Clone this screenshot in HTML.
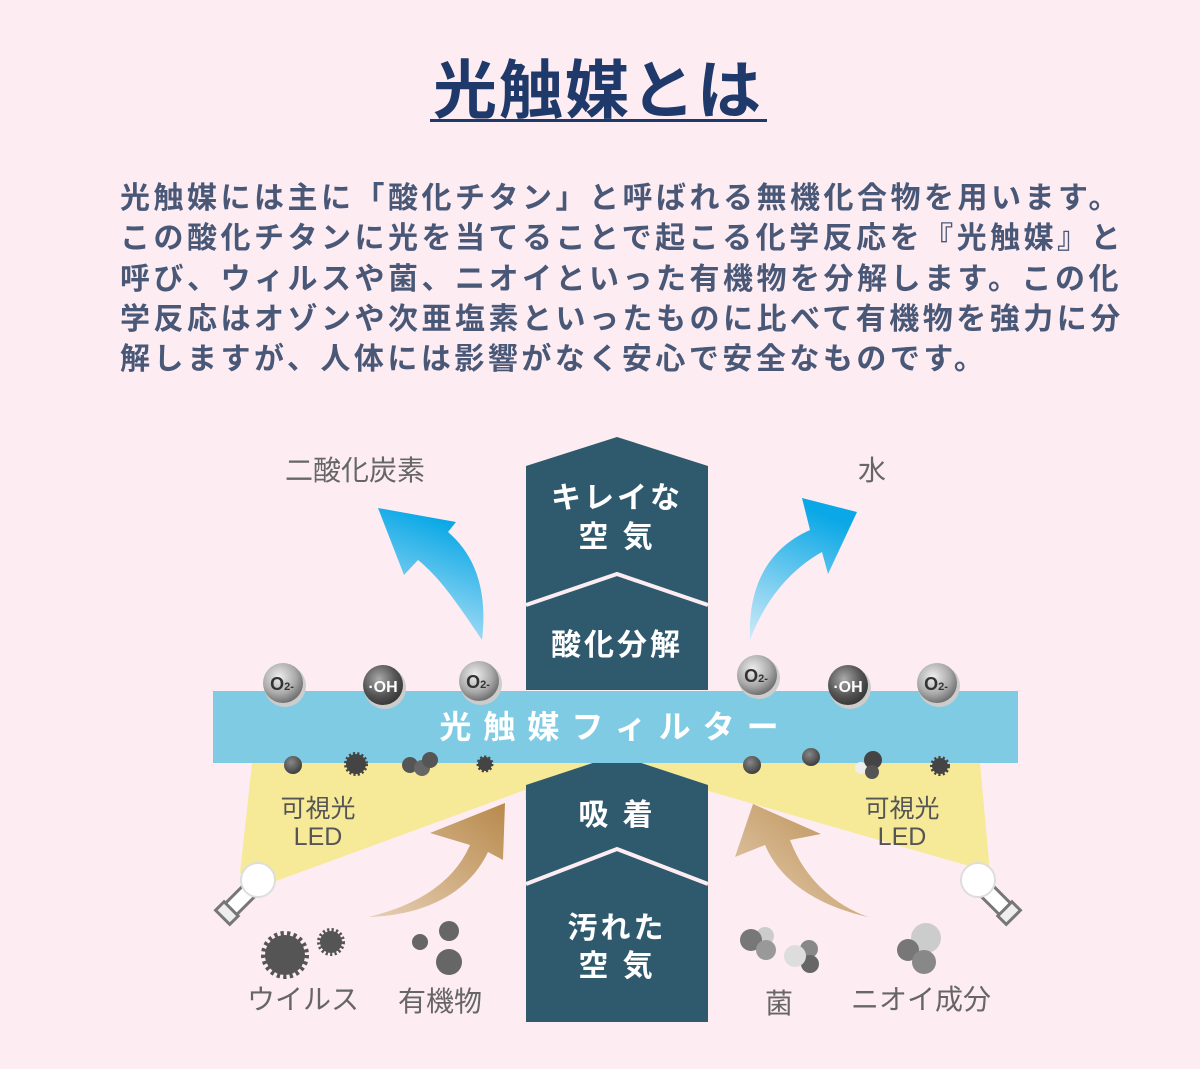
<!DOCTYPE html>
<html><head><meta charset="utf-8"><style>
body{margin:0;background:#fdedf3;}
svg{display:block;font-family:"Liberation Sans","Noto Sans CJK JP",sans-serif;}
</style></head><body>
<svg width="1200" height="1069" viewBox="0 0 1200 1069" xmlns="http://www.w3.org/2000/svg">
<defs>
<linearGradient id="bl" x1="0" y1="1" x2="0.3" y2="0"><stop offset="0" stop-color="#cfeaf8"/><stop offset="1" stop-color="#0aa8e6"/></linearGradient>
<linearGradient id="br" x1="0" y1="1" x2="1" y2="0"><stop offset="0" stop-color="#e6cfb4"/><stop offset="1" stop-color="#b88a4c"/></linearGradient>
<radialGradient id="g1" cx="0.4" cy="0.35" r="0.7"><stop offset="0" stop-color="#eee"/><stop offset="0.6" stop-color="#aaa"/><stop offset="1" stop-color="#666"/></radialGradient>
<radialGradient id="g2" cx="0.4" cy="0.35" r="0.7"><stop offset="0" stop-color="#aaa"/><stop offset="0.6" stop-color="#555"/><stop offset="1" stop-color="#333"/></radialGradient>
<radialGradient id="g3" cx="0.4" cy="0.35" r="0.7"><stop offset="0" stop-color="#888"/><stop offset="1" stop-color="#3a3a3a"/></radialGradient>
</defs>
<rect width="1200" height="1069" fill="#fdedf3"/>
<text x="598" y="113" text-anchor="middle" font-size="64" font-weight="bold" fill="#1f3a6a" letter-spacing="2">光触媒とは</text>
<rect x="430" y="119" width="337" height="3" fill="#1f3a6a"/>
<g font-size="30" font-weight="bold" fill="#4a5878" letter-spacing="3.5">
<text x="120" y="208">光触媒には主に「酸化チタン」と呼ばれる無機化合物を用います。</text>
<text x="120" y="248">この酸化チタンに光を当てることで起こる化学反応を『光触媒』と</text>
<text x="120" y="289">呼び、ウィルスや菌、ニオイといった有機物を分解します。この化</text>
<text x="120" y="329">学反応はオゾンや次亜塩素といったものに比べて有機物を強力に分</text>
<text x="120" y="369">解しますが、人体には影響がなく安心で安全なものです。</text>
</g>
<polygon points="252,763 980,763 990,872 705,790 525,790 268,884 240,873" fill="#f6ea98"/>
<polygon points="525,790 705,790 705,800 525,800" fill="#f6ea98"/>
<polygon points="526,466 617,437 708,466 708,690 526,690" fill="#2f5a6e"/>
<polyline points="526,605 617,574 708,605" fill="none" stroke="#fdedf3" stroke-width="4"/>
<polygon points="526,785 617,755 708,785 708,1022 526,1022" fill="#2f5a6e"/>
<polyline points="526,884 617,849 708,884" fill="none" stroke="#fdedf3" stroke-width="4"/>
<g font-size="30" font-weight="bold" fill="#fff" text-anchor="middle" letter-spacing="3">
<text x="617" y="508">キレイな</text><text x="617" y="547">空 気</text>
<text x="617" y="655">酸化分解</text>
<text x="617" y="825">吸 着</text>
<text x="617" y="938">汚れた</text><text x="617" y="976">空 気</text>
</g>
<rect x="213" y="691" width="805" height="72" fill="#7ecbe3"/>
<text x="615" y="738" text-anchor="middle" font-size="32" font-weight="bold" fill="#fff" letter-spacing="12">光触媒フィルター</text>
<path d="M482,640 C488,590 475,555 448,532 L456,522 L378,508 L404,575 L418,560 C440,578 455,600 482,640 Z" fill="url(#bl)"/>
<path d="M750,640 C748,590 765,550 810,530 L802,498 L857,512 L828,574 L822,552 C790,570 765,600 750,640 Z" fill="url(#bl)"/>
<path d="M368,917 C420,905 455,880 470,845 L430,833 L505,803 L503,860 L488,852 C470,890 430,915 368,917 Z" fill="url(#br)"/>
<path d="M868,917 C815,905 780,880 765,845 L735,857 L753,804 L821,834 L790,840 C805,880 835,905 868,917 Z" fill="url(#br)"/>
<g font-weight="bold" text-anchor="middle">
<circle cx="285" cy="686" r="21" fill="#ccc"/><circle cx="283" cy="683" r="20" fill="url(#g1)"/><text x="282" y="690" font-size="18" fill="#333">O<tspan font-size="11">2-</tspan></text>
<circle cx="385" cy="688" r="21" fill="#ccc"/><circle cx="383" cy="685" r="20" fill="url(#g2)"/><text x="383" y="692" font-size="16" fill="#fff">·OH</text>
<circle cx="481" cy="684" r="21" fill="#ccc"/><circle cx="479" cy="681" r="20" fill="url(#g1)"/><text x="478" y="688" font-size="18" fill="#333">O<tspan font-size="11">2-</tspan></text>
<circle cx="759" cy="678" r="21" fill="#ccc"/><circle cx="757" cy="675" r="20" fill="url(#g1)"/><text x="756" y="682" font-size="18" fill="#333">O<tspan font-size="11">2-</tspan></text>
<circle cx="850" cy="688" r="21" fill="#ccc"/><circle cx="848" cy="685" r="20" fill="url(#g2)"/><text x="848" y="692" font-size="16" fill="#fff">·OH</text>
<circle cx="939" cy="686" r="21" fill="#ccc"/><circle cx="937" cy="683" r="20" fill="url(#g1)"/><text x="936" y="690" font-size="18" fill="#333">O<tspan font-size="11">2-</tspan></text>
</g>
<circle cx="293" cy="765" r="9" fill="url(#g3)"/>
<circle cx="356" cy="764" r="10" fill="#444" stroke="#444" stroke-width="4" stroke-dasharray="2 2"/>
<circle cx="410" cy="765" r="8" fill="#555"/><circle cx="422" cy="768" r="8" fill="#666"/><circle cx="430" cy="760" r="8" fill="#555"/>
<circle cx="485" cy="764" r="7" fill="#444" stroke="#444" stroke-width="3" stroke-dasharray="2 2"/>
<circle cx="752" cy="765" r="9" fill="url(#g3)"/>
<circle cx="811" cy="757" r="9" fill="url(#g3)"/>
<circle cx="861" cy="768" r="6" fill="#eee"/><circle cx="873" cy="760" r="9" fill="#444"/><circle cx="872" cy="772" r="7" fill="#555"/>
<circle cx="940" cy="766" r="8" fill="#444" stroke="#444" stroke-width="4" stroke-dasharray="2 2"/>
<g transform="translate(258,882) rotate(45)"><rect x="-8" y="0" width="16" height="42" rx="6" fill="#fff" stroke="#777" stroke-width="3"/><rect x="-10" y="38" width="20" height="12" fill="#eee" stroke="#777" stroke-width="3"/></g>
<circle cx="258" cy="880" r="17" fill="#fff" stroke="#ddd" stroke-width="2"/>
<g transform="translate(978,882) rotate(-45)"><rect x="-8" y="0" width="16" height="42" rx="6" fill="#fff" stroke="#777" stroke-width="3"/><rect x="-10" y="38" width="20" height="12" fill="#eee" stroke="#777" stroke-width="3"/></g>
<circle cx="978" cy="880" r="17" fill="#fff" stroke="#ddd" stroke-width="2"/>
<circle cx="285" cy="955" r="20" fill="#555" stroke="#555" stroke-width="8" stroke-dasharray="3 3"/>
<circle cx="331" cy="942" r="11" fill="#555" stroke="#555" stroke-width="6" stroke-dasharray="2 2"/>
<circle cx="420" cy="942" r="8" fill="#666"/><circle cx="449" cy="931" r="10" fill="#666"/><circle cx="449" cy="962" r="13" fill="#666"/>
<circle cx="765" cy="936" r="9" fill="#ccc"/><circle cx="751" cy="940" r="11" fill="#777"/><circle cx="766" cy="950" r="10" fill="#999"/>
<circle cx="809" cy="949" r="9" fill="#888"/><circle cx="810" cy="964" r="9" fill="#666"/><circle cx="795" cy="956" r="11" fill="#ddd"/>
<circle cx="926" cy="938" r="15" fill="#ccc"/><circle cx="908" cy="950" r="11" fill="#777"/><circle cx="924" cy="962" r="12" fill="#888"/>
<g font-size="28" fill="#666" text-anchor="middle">
<text x="355" y="480">二酸化炭素</text><text x="872" y="480">水</text>
<text x="303" y="1009">ウイルス</text><text x="440" y="1011">有機物</text>
<text x="779" y="1013">菌</text><text x="921" y="1009">ニオイ成分</text>
</g>
<g font-size="25" fill="#555" text-anchor="middle">
<text x="318" y="817">可視光</text><text x="318" y="845">LED</text>
<text x="902" y="817">可視光</text><text x="902" y="845">LED</text>
</g>
</svg>
</body></html>
